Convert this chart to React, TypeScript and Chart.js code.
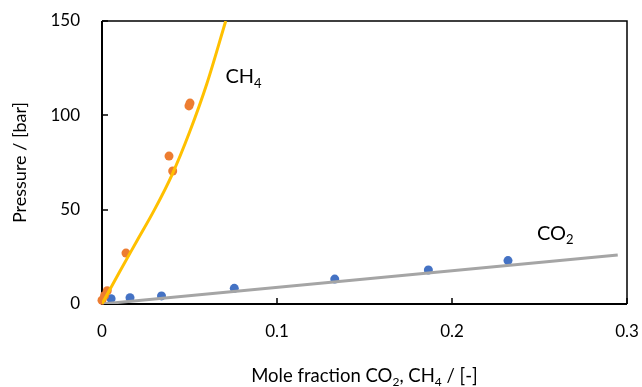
import React, { useEffect, useRef } from "react";
import { Chart, registerables } from "chart.js";

Chart.register(...registerables);

// ---- data ----
const co2X = [0.0052, 0.016, 0.034, 0.0756, 0.133, 0.1865, 0.232];
const co2Y = [2.8, 3.3, 4.3, 8.3, 13.2, 18.0, 23.0];

const ch4X = [0, 0.0015, 0.003, 0.0137, 0.0383, 0.0404, 0.0497, 0.0503];
const ch4Y = [2, 4.5, 7, 27, 78.4, 70.5, 105, 106.5];

const co2FitX = [0, 0.2947];
const co2FitY = [0, 26];

const ch4FitX = [0, 0.01, 0.02, 0.03, 0.04, 0.05, 0.06, 0.0707];
const ch4FitY = [0, 17, 33.5, 50, 68.5, 91, 117, 150];

const xTicks = [0, 0.1, 0.2, 0.3];
const xTickLabels = ["0", "0.1", "0.2", "0.3"];
const yTicks = [0, 50, 100, 150];
const yTickLabels = ["0", "50", "100", "150"];

const xTitle: [string, boolean][] = [
  ["Mole fraction CO", false],
  ["2", true],
  [", CH", false],
  ["4", true],
  [" / [-]", false],
];
const yTitle = "Pressure / [bar]";
const ch4Label: [string, boolean][] = [["CH", false], ["4", true]];
const co2Label: [string, boolean][] = [["CO", false], ["2", true]];
const ch4LabelPos = { x: 0.0705, y: 117 };
const co2LabelPos = { x: 0.2485, y: 34 };

const FONT = "Lato, 'Open Sans', sans-serif";

const zip = (xs: number[], ys: number[]) => xs.map((x, i) => ({ x, y: ys[i] }));

function drawRich(
  ctx: CanvasRenderingContext2D,
  parts: [string, boolean][],
  x: number,
  y: number,
  size: number,
  align: "left" | "center"
) {
  const subSize = Math.round(size * 0.66);
  let total = 0;
  for (const [t, sub] of parts) {
    ctx.font = `${sub ? subSize : size}px ${FONT}`;
    total += ctx.measureText(t).width;
  }
  let cx = align === "center" ? x - total / 2 : x;
  ctx.textAlign = "left";
  ctx.textBaseline = "alphabetic";
  for (const [t, sub] of parts) {
    ctx.font = `${sub ? subSize : size}px ${FONT}`;
    ctx.fillText(t, cx, sub ? y + size * 0.22 : y);
    cx += ctx.measureText(t).width;
  }
}

const overlay = {
  id: "overlay",
  beforeDatasetsDraw(chart: any) {
    const { ctx, chartArea: a, scales } = chart;
    ctx.save();
    ctx.strokeStyle = "#000";
    ctx.lineWidth = 1.5;
    ctx.beginPath();
    ctx.moveTo(a.left, a.top);
    ctx.lineTo(a.right, a.top);
    ctx.lineTo(a.right, a.bottom);
    ctx.stroke();
    ctx.lineWidth = 2;
    ctx.beginPath();
    ctx.moveTo(a.left, a.top);
    ctx.lineTo(a.left, a.bottom);
    ctx.lineTo(a.right, a.bottom);
    ctx.stroke();
    ctx.lineWidth = 1.5;
    ctx.beginPath();
    for (const v of xTicks) {
      if (v === 0) continue;
      const px = Math.round(scales.x.getPixelForValue(v));
      ctx.moveTo(px, a.bottom);
      ctx.lineTo(px, a.bottom - 6);
    }
    for (const v of yTicks) {
      if (v === 0) continue;
      const py = Math.round(scales.y.getPixelForValue(v));
      ctx.moveTo(a.left, py);
      ctx.lineTo(a.left + 6, py);
    }
    ctx.stroke();
    ctx.restore();
  },
  afterDraw(chart: any) {
    const { ctx, chartArea: a, scales } = chart;
    ctx.save();
    ctx.fillStyle = "#000";
    drawRich(ctx, xTitle, (a.left + a.right) / 2, 382, 18.5, "center");
    ctx.save();
    ctx.translate(26, (a.top + a.bottom) / 2);
    ctx.rotate(-Math.PI / 2);
    ctx.font = `18px ${FONT}`;
    ctx.textAlign = "center";
    ctx.textBaseline = "alphabetic";
    ctx.fillText(yTitle, 0, 0);
    ctx.restore();
    drawRich(
      ctx,
      ch4Label,
      scales.x.getPixelForValue(ch4LabelPos.x),
      scales.y.getPixelForValue(ch4LabelPos.y),
      20,
      "left"
    );
    drawRich(
      ctx,
      co2Label,
      scales.x.getPixelForValue(co2LabelPos.x),
      scales.y.getPixelForValue(co2LabelPos.y),
      20,
      "left"
    );
    ctx.restore();
  },
};

export default function App() {
  const ref = useRef<HTMLCanvasElement | null>(null);
  useEffect(() => {
    if (!ref.current) return;
    const chart = new Chart(ref.current, {
      type: "scatter",
      data: {
        datasets: [
          {
            type: "line",
            data: zip(ch4FitX, ch4FitY),
            borderColor: "#FFC000",
            borderWidth: 3,
            pointRadius: 0,
            cubicInterpolationMode: "monotone",
            fill: false,
            order: 0,
          } as any,
          {
            type: "line",
            data: zip(co2FitX, co2FitY),
            borderColor: "#A5A5A5",
            borderWidth: 3,
            pointRadius: 0,
            fill: false,
            order: 0,
          } as any,
          {
            data: zip(ch4X, ch4Y),
            backgroundColor: "#ED7D31",
            borderColor: "#ED7D31",
            pointRadius: 4.5,
            pointBorderWidth: 0,
            clip: false,
            order: 1,
          } as any,
          {
            data: zip(co2X, co2Y),
            backgroundColor: "#4472C4",
            borderColor: "#4472C4",
            pointRadius: 4.5,
            pointBorderWidth: 0,
            clip: false,
            order: 1,
          } as any,
        ],
      },
      options: {
        animation: false,
        responsive: false,
        maintainAspectRatio: false,
        layout: { padding: { top: 21, right: 15, left: 0, bottom: 0 } },
        plugins: { legend: { display: false }, tooltip: { enabled: false } },
        scales: {
          x: {
            type: "linear",
            min: 0,
            max: 0.3,
            grid: { display: false, drawTicks: false },
            border: { display: false },
            afterBuildTicks: (s: any) => {
              s.ticks = xTicks.map((v) => ({ value: v }));
            },
            afterFit: (s: any) => {
              s.height = 83;
              s.paddingLeft = 0;
              s.paddingRight = 0;
            },
            ticks: {
              padding: 17,
              color: "#000",
              font: { family: FONT, size: 17 },
              maxRotation: 0,
              callback: (_v: any, i: number) => xTickLabels[i],
            },
          },
          y: {
            type: "linear",
            min: 0,
            max: 150,
            grid: { display: false, drawTicks: false },
            border: { display: false },
            afterBuildTicks: (s: any) => {
              s.ticks = yTicks.map((v) => ({ value: v }));
            },
            afterFit: (s: any) => {
              s.width = 102;
              s.paddingTop = 0;
              s.paddingBottom = 0;
            },
            ticks: {
              padding: 22,
              color: "#000",
              font: { family: FONT, size: 17 },
              callback: (_v: any, i: number) => yTickLabels[i],
            },
          },
        },
      } as any,
      plugins: [overlay],
    });
    return () => chart.destroy();
  }, []);
  return (
    <div style={{ position: "absolute", left: 0, top: 0, width: 642, height: 387 }}>
      <canvas ref={ref} width={642} height={387} style={{ width: 642, height: 387, display: "block" }} />
    </div>
  );
}
